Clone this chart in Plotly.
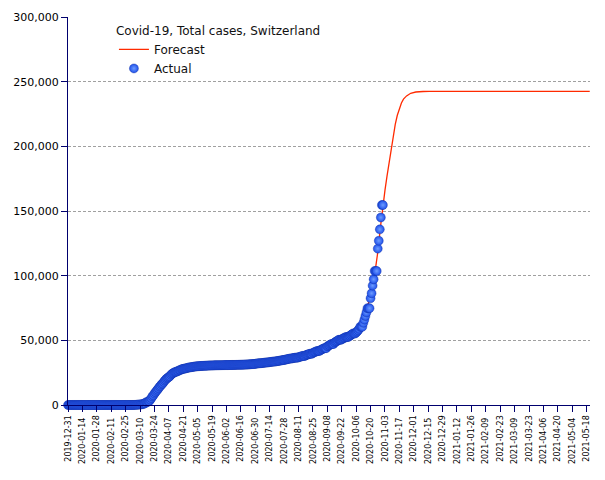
import plotly.graph_objects as go
import pandas as pd

START = "2019-12-31"
END = "2021-05-21 06:00"

# ---- Actual cumulative cases (daily, from 2019-12-31) ----
cases_dec31_feb25 = [0] * 57
cases_feb = [1, 1, 8, 10]
cases_mar = [18, 27, 42, 56, 90, 114, 214, 268, 337, 374, 491, 652, 652, 1139, 1359,
             2200, 2200, 2700, 3028, 4075, 5294, 6575, 7474, 8795, 9877, 10897, 11811,
             12928, 14076, 14829, 15922]
cases_apr = [16605, 17768, 18827, 19606, 20505, 21100, 21657, 22253, 23280, 24051,
             24551, 25107, 25415, 25688, 25936, 26336, 26732, 27078, 27404, 27740,
             27944, 28063, 28268, 28496, 28677, 28894, 29061, 29164, 29264, 29407]
cases_may = [29586, 29705, 29817, 29905, 29981, 30009, 30060, 30126, 30207, 30251,
             30305, 30344, 30380, 30413, 30463, 30514, 30572, 30587, 30597, 30618,
             30658, 30694, 30707, 30725, 30736, 30746, 30761, 30776, 30796, 30828, 30845]
cases_jun = [30862, 30871, 30874, 30893, 30913, 30936, 30956, 30965, 30972, 30988,
             31011, 31044, 31063, 31094, 31117, 31131, 31154, 31187, 31200, 31235,
             31292, 31310, 31376, 31428, 31486, 31555, 31617, 31652, 31714, 31851]
cases_jul = [31967, 32101, 32198, 32268, 32315, 32369, 32498, 32586, 32690, 32817,
             32883, 32946, 33016, 33148, 33290, 33382, 33492, 33591, 33634, 33742,
             33883, 34000, 34154, 34302, 34477, 34609, 34802, 34802, 35022, 35232, 35412]
cases_aug = [35616, 35746, 35927, 35927, 36108, 36269, 36451, 36603, 36603, 36603,
             36895, 37169, 37403, 37671, 37924, 37924, 37924, 38449, 38760, 39026,
             39332, 39627, 39627, 39627, 40262, 40645, 41006, 41346, 41722, 41722, 41722]
cases_sep = [42177, 42763, 43127, 43532, 43957, 43957, 43957, 45306, 45711, 46239,
             46704, 47179, 47179, 47179, 48265, 48795, 49283, 49771, 50378, 50378,
             50378, 50800, 51300, 51700, 52100, 52500, 52500, 52500, 53000, 53500]
cases_oct = [54100, 54700, 55300, 55300, 55300, 56000, 56800, 57800, 58900, 60500,
             60500, 60500, 63500, 66000, 68800, 71600, 74800, 74800, 74800, 82500,
             86400, 92300, 97200, 103600, 103600, 103600, 120900, 127000, 135800,
             145000, 154600]
cases_nov = [154600]

actual_cases = (cases_dec31_feb25 + cases_feb + cases_mar + cases_apr + cases_may +
                cases_jun + cases_jul + cases_aug + cases_sep + cases_oct + cases_nov)
actual_dates = pd.date_range(START, periods=len(actual_cases), freq="D")

# ---- Forecast ----
forecast_dates = ["2020-10-01", "2020-10-05", "2020-10-09", "2020-10-12", "2020-10-15",
                  "2020-10-18", "2020-10-21", "2020-10-24", "2020-10-27", "2020-10-30",
                  "2020-11-01", "2020-11-03", "2020-11-05", "2020-11-07", "2020-11-09",
                  "2020-11-11", "2020-11-13", "2020-11-15", "2020-11-17", "2020-11-19",
                  "2020-11-21", "2020-11-24", "2020-11-28", "2020-12-03", "2020-12-10",
                  "2020-12-16", "2021-05-21"]
forecast_values = [53000, 56000, 60000, 64000, 70000,
                   78000, 88000, 101000, 118000, 140000,
                   155000, 166000, 177000, 188000, 198000,
                   208000, 217000, 224000, 229500, 233500,
                   236500, 239000, 241000, 242000, 242400,
                   242500, 242500]

# ---- Axis ticks ----
x_tick_labels = ["2019-12-31", "2020-01-14", "2020-01-28", "2020-02-11", "2020-02-25",
                 "2020-03-10", "2020-03-24", "2020-04-07", "2020-04-21", "2020-05-05",
                 "2020-05-19", "2020-06-02", "2020-06-16", "2020-06-30", "2020-07-14",
                 "2020-07-28", "2020-08-11", "2020-08-25", "2020-09-08", "2020-09-22",
                 "2020-10-06", "2020-10-20", "2020-11-03", "2020-11-17", "2020-12-01",
                 "2020-12-15", "2020-12-29", "2021-01-12", "2021-01-26", "2021-02-09",
                 "2021-02-23", "2021-03-09", "2021-03-23", "2021-04-06", "2021-04-20",
                 "2021-05-04", "2021-05-18"]
y_tick_values = [0, 50000, 100000, 150000, 200000, 250000, 300000]

NAVY = "#00006e"
FONT = "DejaVu Sans"

fig = go.Figure()
fig.add_trace(go.Scatter(
    x=forecast_dates, y=forecast_values, mode="lines", name="Forecast",
    line=dict(color="#ff2a00", width=1.3), xaxis="x", yaxis="y"))
fig.add_trace(go.Scatter(
    x=actual_dates, y=actual_cases, mode="markers", name="Actual",
    cliponaxis=False, xaxis="x2", yaxis="y",
    marker=dict(size=9, color="#1f50ea",
                gradient=dict(type="radial", color="#6d9cff"),
                line=dict(color="#0d2a9e", width=0.4))))

even_text = [t if i % 2 == 0 else "" for i, t in enumerate(x_tick_labels)]
odd_vals = [t for i, t in enumerate(x_tick_labels) if i % 2 == 1]

# The page body has an 8px default margin; the figure is sized/margined to compensate.
fig.update_layout(
    width=597, height=472,
    margin=dict(l=60, r=14.5, t=9, b=75),
    plot_bgcolor="white", paper_bgcolor="white",
    font=dict(family=FONT, size=12, color="#111111"),
    legend=dict(x=0.088, y=0.994, xanchor="left", yanchor="top",
                bgcolor="rgba(0,0,0,0)", itemwidth=30, tracegroupgap=0,
                title=dict(text="Covid-19, Total cases, Switzerland",
                           font=dict(family=FONT, size=12)),
                font=dict(family=FONT, size=12)),
    xaxis=dict(type="date", range=[START, END], tickmode="array",
               tickvals=x_tick_labels, ticktext=even_text, tickangle=-90,
               ticks="outside", ticklen=6, tickcolor=NAVY, showline=True,
               linecolor=NAVY, linewidth=1, showgrid=False, zeroline=False,
               automargin=False,
               tickfont=dict(family=FONT, size=8, color="#000000")),
    xaxis2=dict(type="date", range=[START, END], overlaying="x", anchor="y",
                side="bottom", tickmode="array", tickvals=odd_vals, ticktext=odd_vals,
                tickangle=-90, ticks="", showline=False, showgrid=False,
                zeroline=False, ticklabelstandoff=10, automargin=False,
                tickfont=dict(family=FONT, size=8, color="#000000")),
    yaxis=dict(range=[0, 300000], tickmode="array", tickvals=y_tick_values,
               tickformat=",d", ticks="outside", ticklen=6, tickcolor=NAVY,
               showline=True, linecolor=NAVY, linewidth=1, showgrid=True,
               gridcolor="#a0a0a0", griddash="3px,2px", gridwidth=1, zeroline=False,
               automargin=False,
               tickfont=dict(family=FONT, size=11, color="#000000")),
)

fig.write_html("out.html")
